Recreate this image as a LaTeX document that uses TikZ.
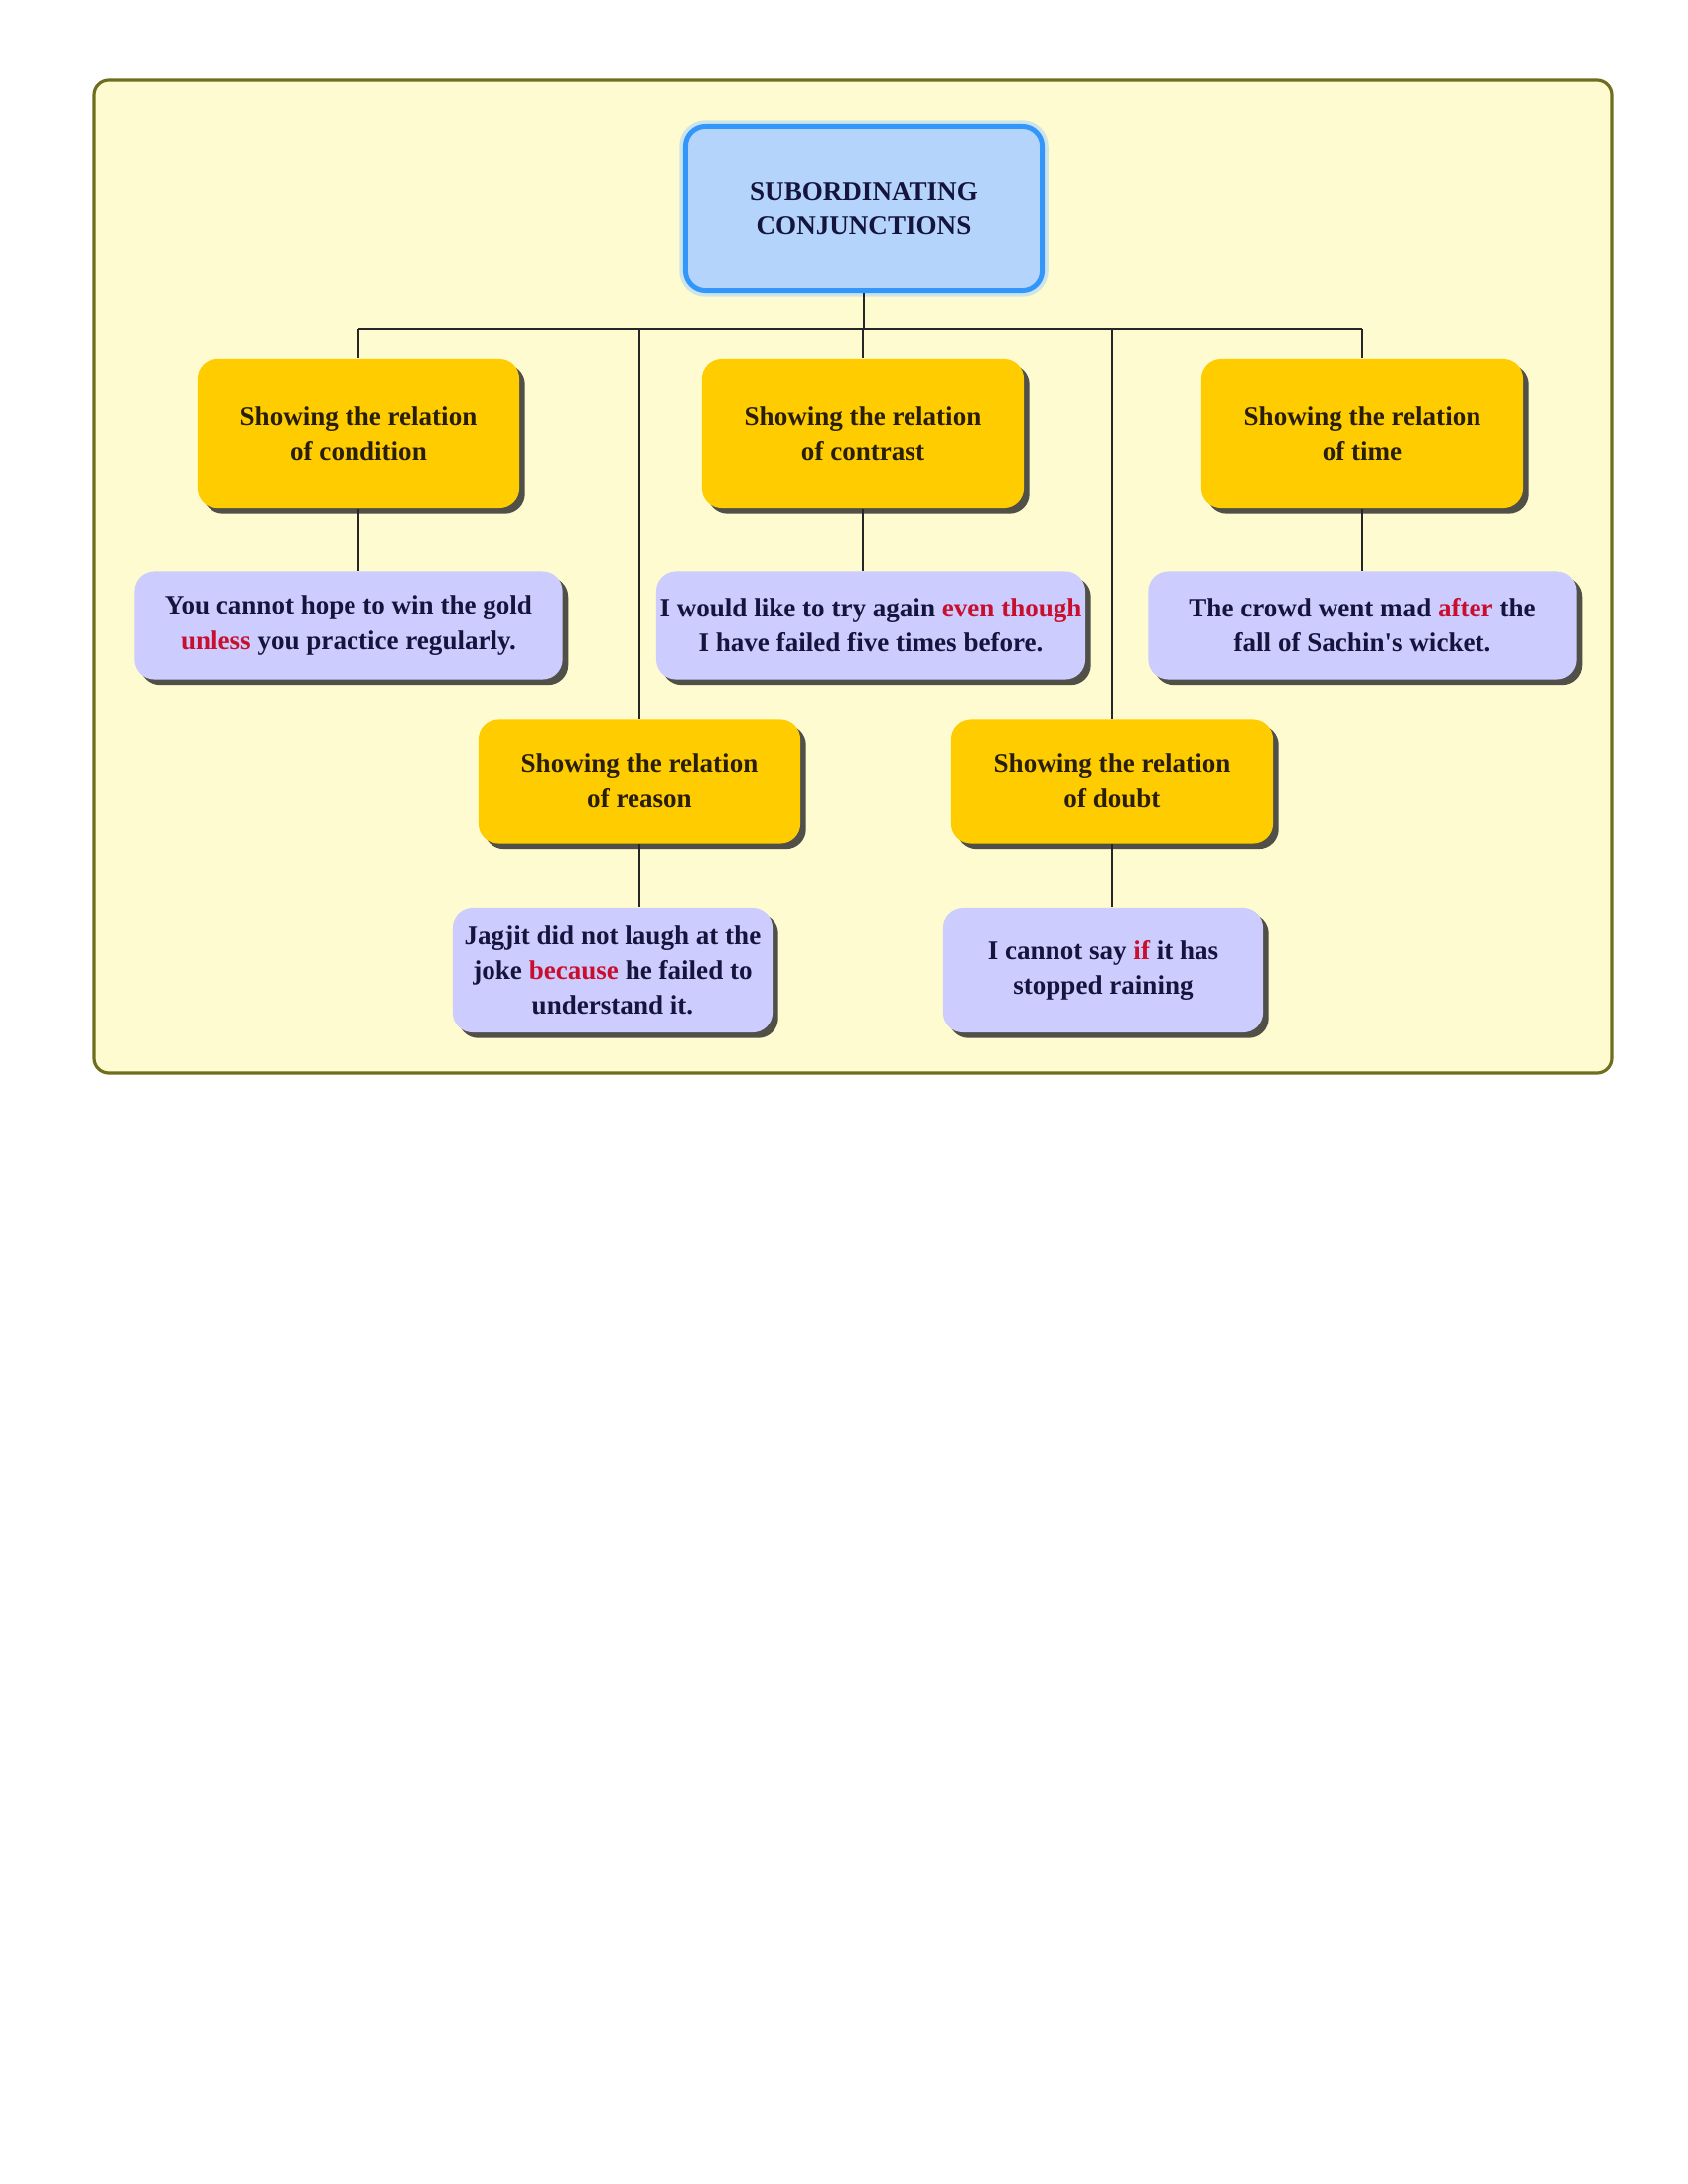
\documentclass[tikz,border=0pt]{standalone}
\usepackage{fontspec}
\setmainfont{Liberation Serif}
\usetikzlibrary{positioning, shadows}

\definecolor{framefill}{RGB}{255,251,208}
\definecolor{frameline}{RGB}{110,110,30}
\definecolor{rootfill}{RGB}{180,212,252}
\definecolor{rootline}{RGB}{51,150,250}
\definecolor{relfill}{RGB}{255,204,0}
\definecolor{exfill}{RGB}{204,204,255}
\definecolor{reltext}{RGB}{40,30,10}
\definecolor{extext}{RGB}{20,20,60}
\definecolor{keyword}{RGB}{200,16,46}

\newcommand{\kw}[1]{\textcolor{keyword}{#1}}

\begin{document}
\begin{tikzpicture}[
    x=0.01cm, y=-0.01cm,
    font=\fontsize{7.7}{10}\selectfont\bfseries,
    rootbox/.style={rectangle, draw=rootline, line width=1.4pt, fill=rootfill, rounded corners=0.2cm,
        minimum width=3.59cm, minimum height=1.65cm, align=center, text=extext,
        preaction={draw=rootline!40, line width=3.5pt, opacity=0.6}},
    relbox/.style={rectangle, fill=relfill, rounded corners=0.2cm, align=center, text=reltext,
        minimum width=3.24cm, drop shadow={shadow xshift=1.6pt, shadow yshift=-1.6pt, opacity=0.8, fill=black!85}},
    examplebox/.style={rectangle, fill=exfill, rounded corners=0.2cm, align=center, text=extext, inner xsep=1pt,
        drop shadow={shadow xshift=1.6pt, shadow yshift=-1.6pt, opacity=0.8, fill=black!85}},
    link/.style={draw=black!85, line width=0.6pt}
]
\useasboundingbox (0,0) rectangle (1700,2200);

% frame
\draw[fill=framefill, draw=frameline, line width=0.9pt, rounded corners=0.15cm] (95,81) rectangle (1623,1081);

% root
\node[rootbox] (root) at (870,210) {SUBORDINATING\\CONJUNCTIONS};
\coordinate (bus) at (865,331);

% first row of relations
\node[relbox, minimum height=1.5cm] (cond) at (361,437) {Showing the relation\\of condition};
\node[relbox, minimum height=1.5cm] (contr) at (869,437) {Showing the relation\\of contrast};
\node[relbox, minimum height=1.5cm] (time) at (1372,437) {Showing the relation\\of time};

% second row of relations
\node[relbox, minimum height=1.25cm] (reason) at (644,787) {Showing the relation\\of reason};
\node[relbox, minimum height=1.25cm] (doubt) at (1120,787) {Showing the relation\\of doubt};

% examples
\node[examplebox, minimum width=4.31cm, minimum height=1.09cm, below=0.62cm of cond, xshift=-0.1cm] (cond-ex)
    {You cannot hope to win the gold\\\kw{unless} you practice regularly.};
\node[examplebox, minimum width=4.31cm, minimum height=1.09cm, below=0.62cm of contr, xshift=0.08cm] (contr-ex)
    {I would like to try again \kw{even though}\\I have failed five times before.};
\node[examplebox, minimum width=4.31cm, minimum height=1.09cm, below=0.62cm of time] (time-ex)
    {The crowd went mad \kw{after} the\\fall of Sachin\textquotesingle s wicket.};
\node[examplebox, minimum width=3.22cm, minimum height=1.25cm, below=0.64cm of reason, xshift=-0.27cm] (reason-ex)
    {Jagjit did not laugh at the\\joke \kw{because} he failed to\\understand it.};
\node[examplebox, minimum width=3.22cm, minimum height=1.25cm, below=0.64cm of doubt, xshift=-0.09cm] (doubt-ex)
    {I cannot say \kw{if} it has\\stopped raining};

% connectors
\draw[link] (root.south) -- (root.south |- bus);
\draw[link] (cond.north |- bus) -- (time.north |- bus);
\foreach \a in {cond,reason,contr,doubt,time} {
    \draw[link] (\a.north |- bus) -- (\a.north);
    \draw[link] (\a.south) -- (\a.south |- \a-ex.north);
}

\end{tikzpicture}
\end{document}
